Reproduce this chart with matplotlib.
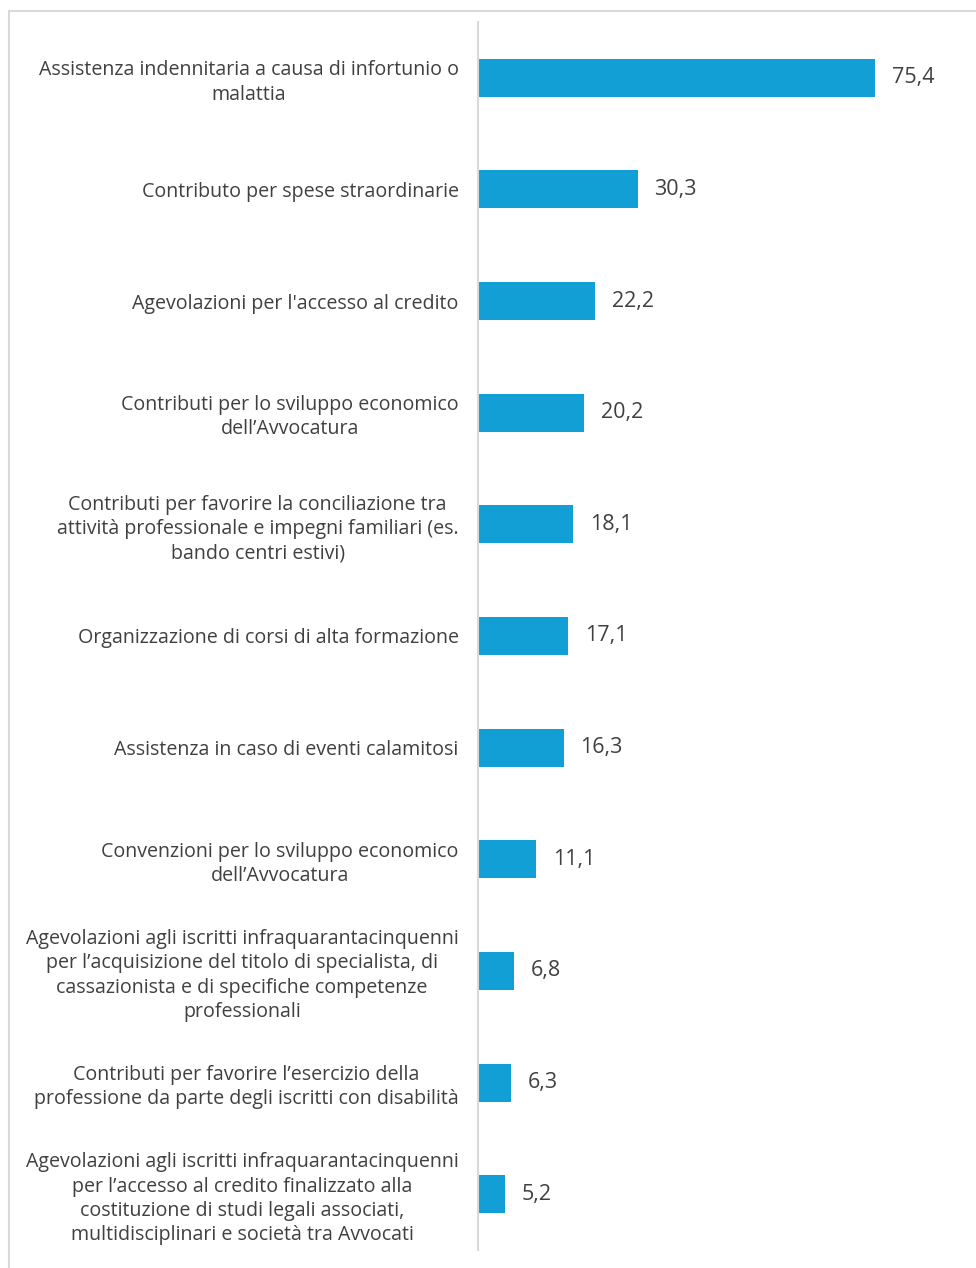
import matplotlib.pyplot as plt
from matplotlib.patches import Rectangle

plt.rcParams['font.family'] = ['Open Sans', 'DejaVu Sans']

# categories, top to bottom
labels = [
    "Assistenza indennitaria a causa di infortunio o\nmalattia",
    "Contributo per spese straordinarie",
    "Agevolazioni per l'accesso al credito",
    "Contributi per lo sviluppo economico\ndell’Avvocatura",
    "Contributi per favorire la conciliazione tra\nattività professionale e impegni familiari (es.\nbando centri estivi)",
    "Organizzazione di corsi di alta formazione",
    "Assistenza in caso di eventi calamitosi",
    "Convenzioni per lo sviluppo economico\ndell’Avvocatura",
    "Agevolazioni agli iscritti infraquarantacinquenni\nper l’acquisizione del titolo di specialista, di\ncassazionista e di specifiche competenze\nprofessionali",
    "Contributi per favorire l’esercizio della\nprofessione da parte degli iscritti con disabilità",
    "Agevolazioni agli iscritti infraquarantacinquenni\nper l’accesso al credito finalizzato alla\ncostituzione di studi legali associati,\nmultidisciplinari e società tra Avvocati",
]
values = [75.4, 30.3, 22.2, 20.2, 18.1, 17.1, 16.3, 11.1, 6.8, 6.3, 5.2]

W, H = 976, 1268
fig = plt.figure(figsize=(W / 100, H / 100), dpi=100)

# light frame around the chart area
fig.patches.append(Rectangle((9 / W, -0.01), 1.05, 1 - 11 / H + 0.01,
                             transform=fig.transFigure, fill=False,
                             edgecolor='#d9d9d9', linewidth=1.5))

ax = fig.add_axes([478 / W, 1 - 1250 / H, (960 - 478) / W, (1250 - 22) / H])

y = list(range(len(values)))
ax.barh(y, values, height=0.34, color='#129fd6')
ax.set_ylim(len(values) - 0.5, -0.5)
ax.set_xlim(0, 482 / 5.265)

ax.set_yticks(y)
ax.set_yticklabels(labels, fontsize=14.1, color='#404040', linespacing=1.28,
                   multialignment='center')
ax.tick_params(axis='y', length=0, pad=14)
ax.set_xticks([])

for s in ['top', 'right', 'bottom']:
    ax.spines[s].set_visible(False)
ax.spines['left'].set_color('#d9d9d9')
ax.spines['left'].set_linewidth(1.5)

for yi, v in zip(y, values):
    ax.annotate(f"{v:.1f}".replace('.', ','), (v, yi), xytext=(12, 0),
                textcoords='offset points', va='center', ha='left',
                fontsize=15.5, color='#404040')

fig.savefig('out.png', dpi=100)
